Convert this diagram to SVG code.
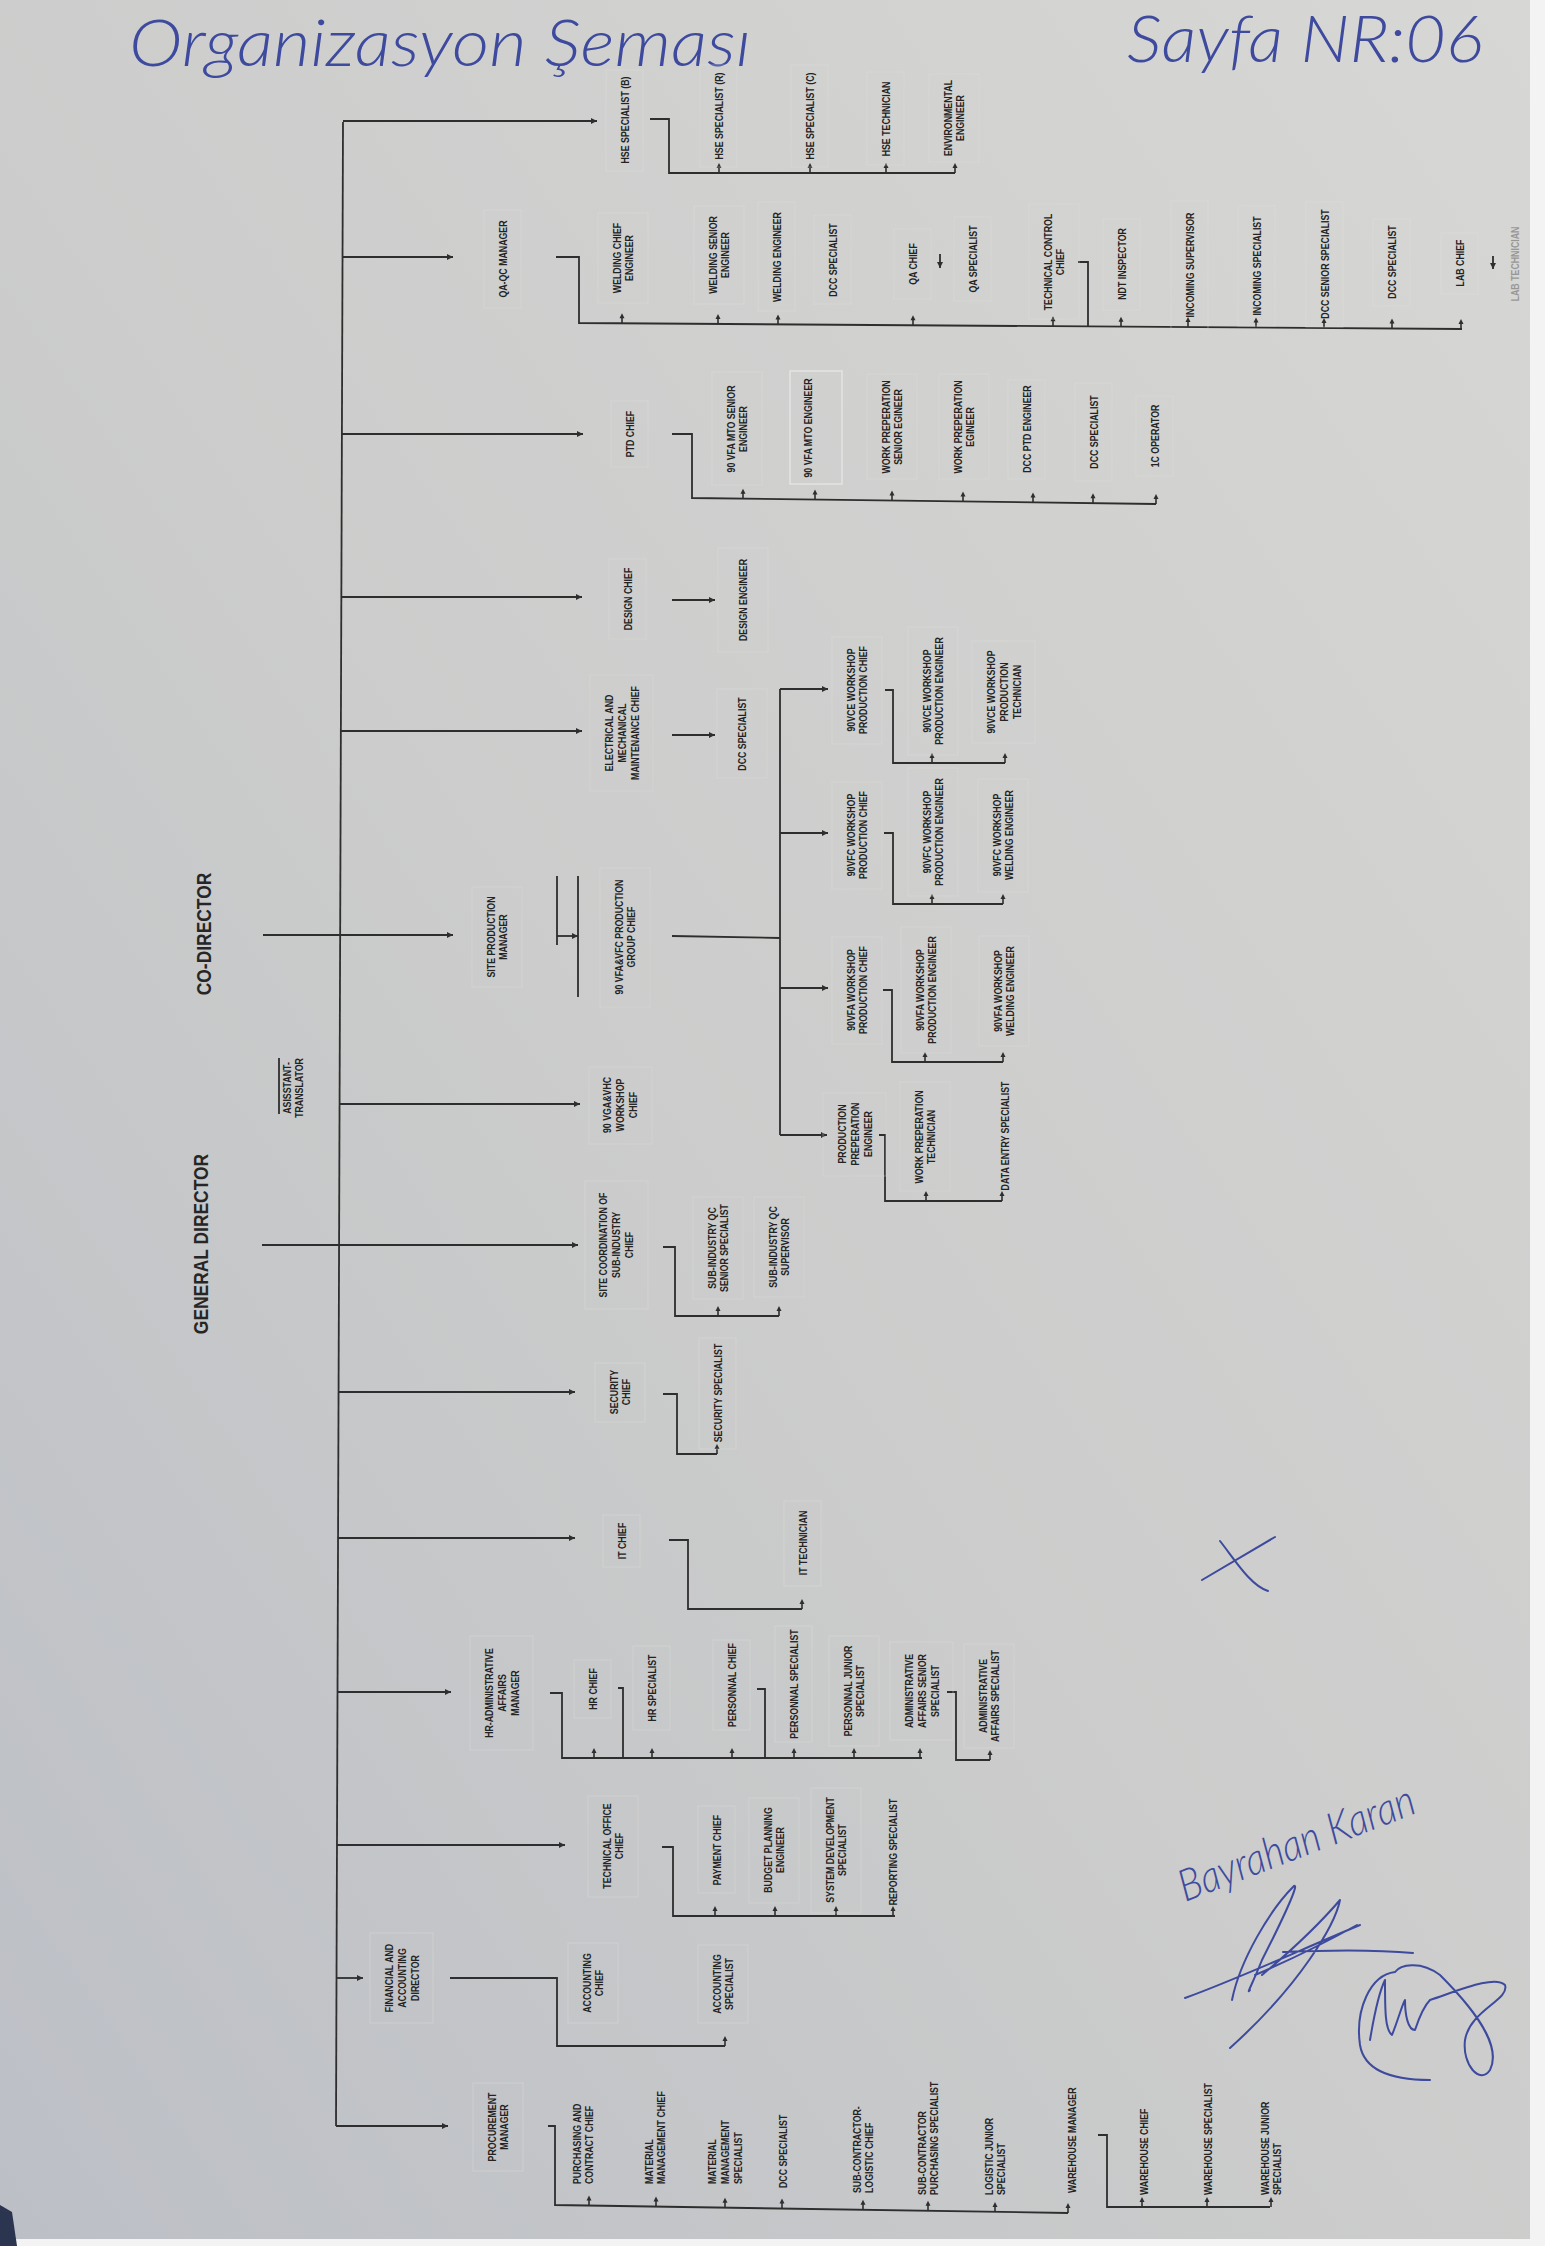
<svg xmlns="http://www.w3.org/2000/svg" xmlns:xlink="http://www.w3.org/1999/xlink" width="1545" height="2246" viewBox="0 0 1545 2246">
<defs>
<linearGradient id="bg" x1="1" y1="0" x2="0" y2="1">
<stop offset="0" stop-color="#d7d7d5"/>
<stop offset="0.55" stop-color="#cbcccb"/>
<stop offset="1" stop-color="#bcbfc6"/>
</linearGradient>
<marker id="ar" viewBox="0 0 10 10" refX="10" refY="5" markerWidth="7" markerHeight="6" markerUnits="userSpaceOnUse" orient="auto"><path d="M0,0 L10,5 L0,10 z" fill="#2e2e2e"/></marker>
<g id="tk"><path d="M0,0 V-6" stroke="#2e2e2e" stroke-width="1.6"/><path d="M-2.5,-5 L0,-10 L2.5,-5 z" fill="#2e2e2e"/></g>
<style>
.l{font-family:"Liberation Sans",Arial,sans-serif;font-weight:bold;font-size:11px;fill:#232323;text-anchor:middle}
.s{font-family:"Liberation Sans",Arial,sans-serif;font-weight:bold;font-size:11px;fill:#232323;text-anchor:start}
.t{font-family:"Liberation Sans",Arial,sans-serif;font-weight:bold;font-size:21px;fill:#262626;text-anchor:middle}
.c{fill:none;stroke:#2e2e2e;stroke-width:1.8}
.bx{fill:none;stroke:#e2e2e0;stroke-width:1.1;opacity:.35}
.hw{font-family:Lato,"Open Sans",sans-serif;font-style:italic;font-weight:300;fill:#3d4a9e}
.ink{fill:none;stroke:#3d4a9e;stroke-width:2;stroke-linecap:round;stroke-linejoin:round}
</style>
</defs>
<rect x="0" y="0" width="1545" height="2246" fill="url(#bg)"/>
<rect x="1530" y="0" width="15" height="2246" fill="#f3f3f3"/>
<rect x="0" y="2239" width="1545" height="7" fill="#f3f3f3"/>
<path d="M0,2205 L12,2212 L17,2246 L0,2246 z" fill="#2b3550"/>

<!-- handwriting -->
<text class="hw" x="129" y="66" font-size="66" textLength="622" lengthAdjust="spacingAndGlyphs">Organizasyon Şeması</text>
<text class="hw" x="1127" y="62" font-size="66" textLength="356" lengthAdjust="spacingAndGlyphs">Sayfa NR:06</text>
<text class="hw" transform="translate(1185,1902) rotate(-21)" font-size="44" textLength="250" lengthAdjust="spacingAndGlyphs">Bayrahan Karan</text>
<path class="ink" d="M1202,1580 L1275,1537 M1220,1541 C1235,1560 1250,1585 1268,1591"/>
<path class="ink" d="M1185,1998 C1240,1978 1300,1950 1360,1925 M1232,2000 C1240,1960 1270,1910 1293,1887 C1300,1880 1290,1905 1262,1960 C1252,1985 1246,1995 1250,1990 M1262,1975 C1280,1960 1310,1935 1340,1900 C1335,1925 1300,1985 1230,2048 M1283,1952 C1330,1950 1380,1950 1413,1953 M1255,1975 C1290,1960 1330,1940 1357,1925"/>
<path class="ink" d="M1395,1972 C1370,1975 1355,2010 1360,2045 C1365,2075 1400,2080 1430,2080 M1370,2040 C1375,2010 1380,1990 1385,1980 C1385,2010 1385,2030 1392,2035 C1398,2020 1402,2005 1405,2000 C1405,2015 1408,2030 1415,2030 C1420,2015 1425,2005 1430,2000 C1460,1990 1495,1975 1505,1985 C1510,2000 1470,2010 1465,2040 C1462,2065 1480,2085 1490,2070 C1500,2050 1485,2020 1440,1975 C1420,1960 1400,1965 1395,1972"/>

<!-- connectors -->
<g id="connectors">
<path class="c" d="M343,122 L336,2126"/>
<path class="c" marker-end="url(#ar)" d="M343,121 H597"/>
<path class="c" marker-end="url(#ar)" d="M342.5,257 H453"/>
<path class="c" marker-end="url(#ar)" d="M342,434 H583"/>
<path class="c" marker-end="url(#ar)" d="M341,597 H582"/>
<path class="c" marker-end="url(#ar)" d="M341,731 H582"/>
<path class="c" marker-end="url(#ar)" d="M263,935 H453"/>
<path class="c" marker-end="url(#ar)" d="M340,1104 H580"/>
<path class="c" marker-end="url(#ar)" d="M262,1245 H578"/>
<path class="c" marker-end="url(#ar)" d="M338.6,1392 H575"/>
<path class="c" marker-end="url(#ar)" d="M338,1538 H575"/>
<path class="c" marker-end="url(#ar)" d="M337.5,1692 H451"/>
<path class="c" marker-end="url(#ar)" d="M337,1845 H565"/>
<path class="c" marker-end="url(#ar)" d="M336.5,1978 H363"/>
<path class="c" marker-end="url(#ar)" d="M336,2126 H448"/>

<path class="c" d="M650,119 H669 V173 H955"/>
<path class="c" d="M556,257 H579 V323 L1462,329"/>
<path class="c" d="M1078,262 H1088 V326"/>
<path class="c" d="M672,434 H692 V498 L1156,504"/>
<path class="c" marker-end="url(#ar)" d="M672,600 H715"/>
<path class="c" marker-end="url(#ar)" d="M672,735 H715"/>
<path class="c" d="M557,876 V945 M578,876 V997"/>
<path class="c" marker-end="url(#ar)" d="M557,936 H578"/>
<path class="c" d="M672,936 L780,938 M780,689 V1135"/>
<path class="c" marker-end="url(#ar)" d="M780,689 H828"/>
<path class="c" marker-end="url(#ar)" d="M780,833 H828"/>
<path class="c" marker-end="url(#ar)" d="M780,988 H828"/>
<path class="c" marker-end="url(#ar)" d="M780,1135 H827"/>
<path class="c" d="M885,690 H893 V763 H1005"/>
<path class="c" d="M884,833 H893 V904 H1003"/>
<path class="c" d="M883,990 H892 V1062 H1003"/>
<path class="c" d="M879,1135 H885 V1201 H1002"/>
<path class="c" d="M663,1247 H675 V1316 H779"/>
<path class="c" d="M663,1394 H677 V1454 H717"/>
<path class="c" d="M669,1540 H688 V1609 H802"/>
<path class="c" d="M550,1693 H562 V1758 H922"/>
<path class="c" d="M618,1688 H623 V1758 M757,1689 H765 V1758"/>
<path class="c" d="M947,1692 H956 V1760 H990"/>
<path class="c" d="M662,1847 H673 V1916 H895"/>
<path class="c" d="M450,1978 H557 V2046 H725"/>
<path class="c" d="M548,2126 H555 V2205 L1068,2213"/>
<path class="c" d="M1098,2135 H1107 V2207 H1270"/>
<path class="c" stroke-width="1.4" marker-end="url(#ar)" d="M940,254 V268"/>
<path class="c" stroke-width="1.4" marker-end="url(#ar)" d="M1493,256 V269"/>

<use xlink:href="#tk" x="719" y="173"/><use xlink:href="#tk" x="810" y="173"/><use xlink:href="#tk" x="886" y="173"/><use xlink:href="#tk" x="955" y="173"/>
<use xlink:href="#tk" x="622" y="323.3"/><use xlink:href="#tk" x="718" y="323.9"/><use xlink:href="#tk" x="778" y="324.4"/><use xlink:href="#tk" x="913" y="325.3"/><use xlink:href="#tk" x="1053" y="326.2"/><use xlink:href="#tk" x="1121" y="326.7"/><use xlink:href="#tk" x="1188" y="327.1"/><use xlink:href="#tk" x="1256" y="327.6"/><use xlink:href="#tk" x="1324" y="328.1"/><use xlink:href="#tk" x="1392" y="328.5"/><use xlink:href="#tk" x="1461" y="329"/>
<use xlink:href="#tk" x="743" y="498.7"/><use xlink:href="#tk" x="815" y="499.6"/><use xlink:href="#tk" x="892" y="500.6"/><use xlink:href="#tk" x="963" y="501.5"/><use xlink:href="#tk" x="1033" y="502.4"/><use xlink:href="#tk" x="1093" y="503.2"/><use xlink:href="#tk" x="1156" y="504"/>
<use xlink:href="#tk" x="932" y="763"/><use xlink:href="#tk" x="1005" y="763"/>
<use xlink:href="#tk" x="932" y="904"/><use xlink:href="#tk" x="1003" y="904"/>
<use xlink:href="#tk" x="925" y="1062"/><use xlink:href="#tk" x="1003" y="1062"/>
<use xlink:href="#tk" x="926" y="1201"/><use xlink:href="#tk" x="1002" y="1201"/>
<use xlink:href="#tk" x="718" y="1316"/><use xlink:href="#tk" x="779" y="1316"/>
<use xlink:href="#tk" x="717" y="1454"/>
<use xlink:href="#tk" x="802" y="1609"/>
<use xlink:href="#tk" x="594" y="1758"/><use xlink:href="#tk" x="652" y="1758"/><use xlink:href="#tk" x="732" y="1758"/><use xlink:href="#tk" x="794" y="1758"/><use xlink:href="#tk" x="854" y="1758"/><use xlink:href="#tk" x="920" y="1758"/>
<use xlink:href="#tk" x="990" y="1760"/>
<use xlink:href="#tk" x="715" y="1916"/><use xlink:href="#tk" x="775" y="1916"/><use xlink:href="#tk" x="836" y="1916"/><use xlink:href="#tk" x="893" y="1916"/>
<use xlink:href="#tk" x="725" y="2046"/>
<use xlink:href="#tk" x="589" y="2205.5"/><use xlink:href="#tk" x="656" y="2206.6"/><use xlink:href="#tk" x="725" y="2207.7"/><use xlink:href="#tk" x="782" y="2208.5"/><use xlink:href="#tk" x="863" y="2209.8"/><use xlink:href="#tk" x="928" y="2210.8"/><use xlink:href="#tk" x="995" y="2211.9"/><use xlink:href="#tk" x="1068" y="2213"/>
<use xlink:href="#tk" x="1142" y="2207"/><use xlink:href="#tk" x="1207" y="2207"/><use xlink:href="#tk" x="1271" y="2207"/>
</g>

<!-- titles -->
<g id="n-codir"><text class="t" transform="translate(203,934) rotate(-90) scale(.83,1)" y="8">CO-DIRECTOR</text></g>
<g id="n-gd"><text class="t" transform="translate(200,1244) rotate(-90) scale(.83,1)" y="8">GENERAL DIRECTOR</text></g>
<g id="n-asst"><path class="c" stroke-width="1.4" d="M279,1058 V1114"/><text class="l" transform="translate(293,1088) rotate(-90) scale(.8,1)"><tspan x="0" y="-2.5">ASISSTANT-</tspan><tspan x="0" y="10.5">TRANSLATOR</tspan></text></g>

<!-- HSE row -->
<g id="n-hse-b"><rect class="bx" x="606" y="70" width="37" height="101"/><text class="l" transform="translate(625,120) rotate(-90) scale(.8,1)"><tspan x="0" y="4">HSE SPECIALIST (B)</tspan></text></g>
<g id="n-hse-r"><rect class="bx" x="700" y="65" width="37" height="102"/><text class="l" transform="translate(719,116) rotate(-90) scale(.8,1)"><tspan x="0" y="4">HSE SPECIALIST (R)</tspan></text></g>
<g id="n-hse-c"><rect class="bx" x="791" y="65" width="37" height="102"/><text class="l" transform="translate(810,116) rotate(-90) scale(.8,1)"><tspan x="0" y="4">HSE SPECIALIST (C)</tspan></text></g>
<g id="n-hse-t"><rect class="bx" x="867" y="72" width="37" height="93"/><text class="l" transform="translate(886,119) rotate(-90) scale(.8,1)"><tspan x="0" y="4">HSE TECHNICIAN</tspan></text></g>
<g id="n-env"><rect class="bx" x="929" y="74" width="50" height="88"/><text class="l" transform="translate(954,118) rotate(-90) scale(.8,1)"><tspan x="0" y="-2.5">ENVIRONMENTAL</tspan><tspan x="0" y="10.5">ENGINEER</tspan></text></g>

<!-- QA-QC row -->
<g id="n-qaqc"><rect class="bx" x="484" y="210" width="37" height="98"/><text class="l" transform="translate(503,259) rotate(-90) scale(.8,1)"><tspan x="0" y="4">QA-QC MANAGER</tspan></text></g>
<g id="n-wce"><rect class="bx" x="598" y="213" width="50" height="90"/><text class="l" transform="translate(623,258) rotate(-90) scale(.8,1)"><tspan x="0" y="-2.5">WELDING CHIEF</tspan><tspan x="0" y="10.5">ENGINEER</tspan></text></g>
<g id="n-wse"><rect class="bx" x="694" y="206" width="50" height="98"/><text class="l" transform="translate(719,255) rotate(-90) scale(.8,1)"><tspan x="0" y="-2.5">WELDING SENIOR</tspan><tspan x="0" y="10.5">ENGINEER</tspan></text></g>
<g id="n-we"><rect class="bx" x="758" y="202" width="37" height="109"/><text class="l" transform="translate(777,257) rotate(-90) scale(.8,1)"><tspan x="0" y="4">WELDING ENGINEER</tspan></text></g>
<g id="n-dcc1"><rect class="bx" x="814" y="215" width="37" height="89"/><text class="l" transform="translate(833,260) rotate(-90) scale(.8,1)"><tspan x="0" y="4">DCC SPECIALIST</tspan></text></g>
<g id="n-qac"><rect class="bx" x="894" y="229" width="37" height="70"/><text class="l" transform="translate(913,264) rotate(-90) scale(.8,1)"><tspan x="0" y="4">QA CHIEF</tspan></text></g>
<g id="n-qas"><rect class="bx" x="954" y="217" width="37" height="84"/><text class="l" transform="translate(973,259) rotate(-90) scale(.8,1)"><tspan x="0" y="4">QA SPECIALIST</tspan></text></g>
<g id="n-tcc"><rect class="bx" x="1029" y="204" width="50" height="115"/><text class="l" transform="translate(1054,262) rotate(-90) scale(.8,1)"><tspan x="0" y="-2.5">TECHNICAL CONTROL</tspan><tspan x="0" y="10.5">CHIEF</tspan></text></g>
<g id="n-ndt"><rect class="bx" x="1103" y="219" width="37" height="91"/><text class="l" transform="translate(1122,264) rotate(-90) scale(.8,1)"><tspan x="0" y="4">NDT INSPECTOR</tspan></text></g>
<g id="n-incsup"><rect class="bx" x="1171" y="201" width="37" height="128"/><text class="l" transform="translate(1190,265) rotate(-90) scale(.8,1)"><tspan x="0" y="4">INCOMING SUPERVISOR</tspan></text></g>
<g id="n-incspec"><rect class="bx" x="1238" y="206" width="37" height="120"/><text class="l" transform="translate(1257,266) rotate(-90) scale(.8,1)"><tspan x="0" y="4">INCOMING SPECIALIST</tspan></text></g>
<g id="n-dccsen"><rect class="bx" x="1306" y="202" width="37" height="125"/><text class="l" transform="translate(1325,264) rotate(-90) scale(.8,1)"><tspan x="0" y="4">DCC SENIOR SPECIALIST</tspan></text></g>
<g id="n-dcc2"><rect class="bx" x="1373" y="219" width="37" height="87"/><text class="l" transform="translate(1392,262) rotate(-90) scale(.8,1)"><tspan x="0" y="4">DCC SPECIALIST</tspan></text></g>
<g id="n-lab"><rect class="bx" x="1441" y="233" width="37" height="61"/><text class="l" transform="translate(1460,263) rotate(-90) scale(.8,1)"><tspan x="0" y="4">LAB CHIEF</tspan></text></g>
<g id="n-labtech" opacity="0.35"><text class="l" transform="translate(1515,264) rotate(-90) scale(.8,1)"><tspan x="0" y="4">LAB TECHNICIAN</tspan></text></g>

<!-- PTD row -->
<g id="n-ptd"><rect class="bx" x="611" y="401" width="37" height="66"/><text class="l" transform="translate(630,434) rotate(-90) scale(.8,1)"><tspan x="0" y="4">PTD CHIEF</tspan></text></g>
<g id="n-mtos"><rect class="bx" x="712" y="372" width="50" height="113"/><text class="l" transform="translate(737,429) rotate(-90) scale(.8,1)"><tspan x="0" y="-2.5">90 VFA MTO SENIOR</tspan><tspan x="0" y="10.5">ENGINEER</tspan></text></g>
<g id="n-mto"><rect x="790" y="371" width="52" height="113" fill="none" stroke="#e8e8e6" stroke-width="1.5" opacity=".8"/><text class="l" transform="translate(808,428) rotate(-90) scale(.8,1)"><tspan x="0" y="4">90 VFA MTO ENGINEER</tspan></text></g>
<g id="n-wps"><rect class="bx" x="867" y="374" width="50" height="105"/><text class="l" transform="translate(892,427) rotate(-90) scale(.8,1)"><tspan x="0" y="-2.5">WORK PREPERATION</tspan><tspan x="0" y="10.5">SENIOR EGINEER</tspan></text></g>
<g id="n-wp"><rect class="bx" x="939" y="374" width="50" height="105"/><text class="l" transform="translate(964,427) rotate(-90) scale(.8,1)"><tspan x="0" y="-2.5">WORK PREPERATION</tspan><tspan x="0" y="10.5">EGINEER</tspan></text></g>
<g id="n-dccptd"><rect class="bx" x="1008" y="380" width="37" height="99"/><text class="l" transform="translate(1027,429) rotate(-90) scale(.8,1)"><tspan x="0" y="4">DCC PTD ENGINEER</tspan></text></g>
<g id="n-dcc3"><rect class="bx" x="1075" y="383" width="37" height="98"/><text class="l" transform="translate(1094,432) rotate(-90) scale(.8,1)"><tspan x="0" y="4">DCC SPECIALIST</tspan></text></g>
<g id="n-1c"><rect class="bx" x="1136" y="396" width="37" height="80"/><text class="l" transform="translate(1155,436) rotate(-90) scale(.8,1)"><tspan x="0" y="4">1C OPERATOR</tspan></text></g>

<!-- design / E&M -->
<g id="n-design"><rect class="bx" x="609" y="559" width="37" height="80"/><text class="l" transform="translate(628,599) rotate(-90) scale(.8,1)"><tspan x="0" y="4">DESIGN CHIEF</tspan></text></g>
<g id="n-designeng"><rect class="bx" x="718" y="548" width="50" height="104"/><text class="l" transform="translate(743,600) rotate(-90) scale(.8,1)"><tspan x="0" y="4">DESIGN ENGINEER</tspan></text></g>
<g id="n-em"><rect class="bx" x="590" y="675" width="63" height="116"/><text class="l" transform="translate(622,733) rotate(-90) scale(.8,1)"><tspan x="0" y="-9">ELECTRICAL AND</tspan><tspan x="0" y="4">MECHANICAL</tspan><tspan x="0" y="17">MAINTENANCE CHIEF</tspan></text></g>
<g id="n-dcc4"><rect class="bx" x="717" y="689" width="50" height="89"/><text class="l" transform="translate(742,734) rotate(-90) scale(.8,1)"><tspan x="0" y="4">DCC SPECIALIST</tspan></text></g>

<!-- production -->
<g id="n-spm"><rect class="bx" x="472" y="887" width="50" height="100"/><text class="l" transform="translate(497,937) rotate(-90) scale(.8,1)"><tspan x="0" y="-2.5">SITE PRODUCTION</tspan><tspan x="0" y="10.5">MANAGER</tspan></text></g>
<g id="n-pgc"><rect class="bx" x="600" y="868" width="50" height="139"/><text class="l" transform="translate(625,937) rotate(-90) scale(.8,1)"><tspan x="0" y="-2.5">90 VFA&amp;VFC PRODUCTION</tspan><tspan x="0" y="10.5">GROUP CHIEF</tspan></text></g>
<g id="n-vce-c"><rect class="bx" x="832" y="637" width="50" height="107"/><text class="l" transform="translate(857,690) rotate(-90) scale(.8,1)"><tspan x="0" y="-2.5">90VCE WORKSHOP</tspan><tspan x="0" y="10.5">PRODUCTION CHIEF</tspan></text></g>
<g id="n-vce-e"><rect class="bx" x="908" y="627" width="50" height="128"/><text class="l" transform="translate(933,691) rotate(-90) scale(.8,1)"><tspan x="0" y="-2.5">90VCE WORKSHOP</tspan><tspan x="0" y="10.5">PRODUCTION ENGINEER</tspan></text></g>
<g id="n-vce-t"><rect class="bx" x="972" y="641" width="63" height="102"/><text class="l" transform="translate(1004,692) rotate(-90) scale(.8,1)"><tspan x="0" y="-9">90VCE WORKSHOP</tspan><tspan x="0" y="4">PRODUCTION</tspan><tspan x="0" y="17">TECHNICIAN</tspan></text></g>
<g id="n-vfc-c"><rect class="bx" x="832" y="782" width="50" height="107"/><text class="l" transform="translate(857,835) rotate(-90) scale(.8,1)"><tspan x="0" y="-2.5">90VFC WORKSHOP</tspan><tspan x="0" y="10.5">PRODUCTION CHIEF</tspan></text></g>
<g id="n-vfc-e"><rect class="bx" x="908" y="768" width="50" height="128"/><text class="l" transform="translate(933,832) rotate(-90) scale(.8,1)"><tspan x="0" y="-2.5">90VFC WORKSHOP</tspan><tspan x="0" y="10.5">PRODUCTION ENGINEER</tspan></text></g>
<g id="n-vfc-w"><rect class="bx" x="978" y="779" width="50" height="113"/><text class="l" transform="translate(1003,835) rotate(-90) scale(.8,1)"><tspan x="0" y="-2.5">90VFC WORKSHOP</tspan><tspan x="0" y="10.5">WELDING ENGINEER</tspan></text></g>
<g id="n-vfa-c"><rect class="bx" x="832" y="937" width="50" height="107"/><text class="l" transform="translate(857,990) rotate(-90) scale(.8,1)"><tspan x="0" y="-2.5">90VFA WORKSHOP</tspan><tspan x="0" y="10.5">PRODUCTION CHIEF</tspan></text></g>
<g id="n-vfa-e"><rect class="bx" x="901" y="927" width="50" height="126"/><text class="l" transform="translate(926,990) rotate(-90) scale(.8,1)"><tspan x="0" y="-2.5">90VFA WORKSHOP</tspan><tspan x="0" y="10.5">PRODUCTION ENGINEER</tspan></text></g>
<g id="n-vfa-w"><rect class="bx" x="979" y="936" width="50" height="110"/><text class="l" transform="translate(1004,991) rotate(-90) scale(.8,1)"><tspan x="0" y="-2.5">90VFA WORKSHOP</tspan><tspan x="0" y="10.5">WELDING ENGINEER</tspan></text></g>
<g id="n-ppe"><rect class="bx" x="823" y="1093" width="63" height="83"/><text class="l" transform="translate(855,1134) rotate(-90) scale(.8,1)"><tspan x="0" y="-9">PRODUCTION</tspan><tspan x="0" y="4">PREPERATION</tspan><tspan x="0" y="17">ENGINEER</tspan></text></g>
<g id="n-wpt"><rect class="bx" x="900" y="1082" width="50" height="109"/><text class="l" transform="translate(925,1137) rotate(-90) scale(.8,1)"><tspan x="0" y="-2.5">WORK PREPERATION</tspan><tspan x="0" y="10.5">TECHNICIAN</tspan></text></g>
<g id="n-des"><text class="l" transform="translate(1005,1136) rotate(-90) scale(.8,1)"><tspan x="0" y="4">DATA ENTRY SPECIALIST</tspan></text></g>

<!-- general director branch -->
<g id="n-vga"><rect class="bx" x="589" y="1067" width="63" height="77"/><text class="l" transform="translate(620,1105) rotate(-90) scale(.8,1)"><tspan x="0" y="-9">90 VGA&amp;VHC</tspan><tspan x="0" y="4">WORKSHOP</tspan><tspan x="0" y="17">CHIEF</tspan></text></g>
<g id="n-scs"><rect class="bx" x="585" y="1181" width="63" height="128"/><text class="l" transform="translate(616,1245) rotate(-90) scale(.8,1)"><tspan x="0" y="-9">SITE COORDINATION OF</tspan><tspan x="0" y="4">SUB-INDUSTRY</tspan><tspan x="0" y="17">CHIEF</tspan></text></g>
<g id="n-sqs"><rect class="bx" x="693" y="1197" width="50" height="102"/><text class="l" transform="translate(718,1248) rotate(-90) scale(.8,1)"><tspan x="0" y="-2.5">SUB-INDUSTRY QC</tspan><tspan x="0" y="10.5">SENIOR SPECIALIST</tspan></text></g>
<g id="n-sqv"><rect class="bx" x="754" y="1197" width="50" height="100"/><text class="l" transform="translate(779,1247) rotate(-90) scale(.8,1)"><tspan x="0" y="-2.5">SUB-INDUSTRY QC</tspan><tspan x="0" y="10.5">SUPERVISOR</tspan></text></g>
<g id="n-sec"><rect class="bx" x="595" y="1363" width="50" height="59"/><text class="l" transform="translate(620,1392) rotate(-90) scale(.8,1)"><tspan x="0" y="-2.5">SECURITY</tspan><tspan x="0" y="10.5">CHIEF</tspan></text></g>
<g id="n-secs"><rect class="bx" x="699" y="1338" width="37" height="111"/><text class="l" transform="translate(718,1393) rotate(-90) scale(.8,1)"><tspan x="0" y="4">SECURITY SPECIALIST</tspan></text></g>
<g id="n-it"><rect class="bx" x="603" y="1515" width="37" height="52"/><text class="l" transform="translate(622,1541) rotate(-90) scale(.8,1)"><tspan x="0" y="4">IT CHIEF</tspan></text></g>
<g id="n-itt"><rect class="bx" x="784" y="1501" width="37" height="85"/><text class="l" transform="translate(803,1543) rotate(-90) scale(.8,1)"><tspan x="0" y="4">IT TECHNICIAN</tspan></text></g>

<!-- HR -->
<g id="n-hr"><rect class="bx" x="470" y="1636" width="63" height="114"/><text class="l" transform="translate(502,1693) rotate(-90) scale(.8,1)"><tspan x="0" y="-9">HR-ADMINISTRATIVE</tspan><tspan x="0" y="4">AFFAIRS</tspan><tspan x="0" y="17">MANAGER</tspan></text></g>
<g id="n-hrc"><rect class="bx" x="574" y="1660" width="37" height="58"/><text class="l" transform="translate(593,1689) rotate(-90) scale(.8,1)"><tspan x="0" y="4">HR CHIEF</tspan></text></g>
<g id="n-hrs"><rect class="bx" x="633" y="1646" width="37" height="84"/><text class="l" transform="translate(652,1688) rotate(-90) scale(.8,1)"><tspan x="0" y="4">HR SPECIALIST</tspan></text></g>
<g id="n-pc"><rect class="bx" x="713" y="1640" width="37" height="90"/><text class="l" transform="translate(732,1685) rotate(-90) scale(.8,1)"><tspan x="0" y="4">PERSONNAL CHIEF</tspan></text></g>
<g id="n-ps"><rect class="bx" x="775" y="1626" width="37" height="116"/><text class="l" transform="translate(794,1684) rotate(-90) scale(.8,1)"><tspan x="0" y="4">PERSONNAL SPECIALIST</tspan></text></g>
<g id="n-pjs"><rect class="bx" x="829" y="1636" width="50" height="110"/><text class="l" transform="translate(854,1691) rotate(-90) scale(.8,1)"><tspan x="0" y="-2.5">PERSONNAL JUNIOR</tspan><tspan x="0" y="10.5">SPECIALIST</tspan></text></g>
<g id="n-aass"><rect class="bx" x="890" y="1642" width="63" height="98"/><text class="l" transform="translate(922,1691) rotate(-90) scale(.8,1)"><tspan x="0" y="-9">ADMINISTRATIVE</tspan><tspan x="0" y="4">AFFAIRS SENIOR</tspan><tspan x="0" y="17">SPECIALIST</tspan></text></g>
<g id="n-aas"><rect class="bx" x="964" y="1644" width="50" height="104"/><text class="l" transform="translate(989,1696) rotate(-90) scale(.8,1)"><tspan x="0" y="-2.5">ADMINISTRATIVE</tspan><tspan x="0" y="10.5">AFFAIRS SPECIALIST</tspan></text></g>

<!-- technical office -->
<g id="n-toc"><rect class="bx" x="588" y="1796" width="50" height="101"/><text class="l" transform="translate(613,1846) rotate(-90) scale(.8,1)"><tspan x="0" y="-2.5">TECHNICAL OFFICE</tspan><tspan x="0" y="10.5">CHIEF</tspan></text></g>
<g id="n-pay"><rect class="bx" x="698" y="1806" width="37" height="87"/><text class="l" transform="translate(717,1850) rotate(-90) scale(.8,1)"><tspan x="0" y="4">PAYMENT CHIEF</tspan></text></g>
<g id="n-bpe"><rect class="bx" x="749" y="1798" width="50" height="105"/><text class="l" transform="translate(774,1850) rotate(-90) scale(.8,1)"><tspan x="0" y="-2.5">BUDGET PLANNING</tspan><tspan x="0" y="10.5">ENGINEER</tspan></text></g>
<g id="n-sds"><rect class="bx" x="811" y="1788" width="50" height="125"/><text class="l" transform="translate(836,1850) rotate(-90) scale(.8,1)"><tspan x="0" y="-2.5">SYSTEM DEVELOPMENT</tspan><tspan x="0" y="10.5">SPECIALIST</tspan></text></g>
<g id="n-rep"><text class="l" transform="translate(893,1852) rotate(-90) scale(.8,1)"><tspan x="0" y="4">REPORTING SPECIALIST</tspan></text></g>

<!-- financial -->
<g id="n-fa"><rect class="bx" x="370" y="1933" width="63" height="90"/><text class="l" transform="translate(402,1978) rotate(-90) scale(.8,1)"><tspan x="0" y="-9">FINANCIAL AND</tspan><tspan x="0" y="4">ACCOUNTING</tspan><tspan x="0" y="17">DIRECTOR</tspan></text></g>
<g id="n-acc"><rect class="bx" x="568" y="1943" width="50" height="80"/><text class="l" transform="translate(593,1983) rotate(-90) scale(.8,1)"><tspan x="0" y="-2.5">ACCOUNTING</tspan><tspan x="0" y="10.5">CHIEF</tspan></text></g>
<g id="n-accs"><rect class="bx" x="698" y="1945" width="50" height="78"/><text class="l" transform="translate(723,1984) rotate(-90) scale(.8,1)"><tspan x="0" y="-2.5">ACCOUNTING</tspan><tspan x="0" y="10.5">SPECIALIST</tspan></text></g>

<!-- procurement -->
<g id="n-proc"><rect class="bx" x="473" y="2083" width="50" height="88"/><text class="l" transform="translate(498,2127) rotate(-90) scale(.8,1)"><tspan x="0" y="-2.5">PROCUREMENT</tspan><tspan x="0" y="10.5">MANAGER</tspan></text></g>
<g id="n-pcc"><text class="s" transform="translate(583,2184) rotate(-90) scale(.8,1)"><tspan x="0" y="-2.5">PURCHASING AND</tspan><tspan x="0" y="10.5">CONTRACT CHIEF</tspan></text></g>
<g id="n-mmc"><text class="s" transform="translate(655,2184) rotate(-90) scale(.8,1)"><tspan x="0" y="-2.5">MATERIAL</tspan><tspan x="0" y="10.5">MANAGEMENT CHIEF</tspan></text></g>
<g id="n-mms"><text class="s" transform="translate(725,2184) rotate(-90) scale(.8,1)"><tspan x="0" y="-9">MATERIAL</tspan><tspan x="0" y="4">MANAGEMENT</tspan><tspan x="0" y="17">SPECIALIST</tspan></text></g>
<g id="n-dcc5"><text class="s" transform="translate(783,2188) rotate(-90) scale(.8,1)"><tspan x="0" y="4">DCC SPECIALIST</tspan></text></g>
<g id="n-slc"><text class="s" transform="translate(863,2193) rotate(-90) scale(.8,1)"><tspan x="0" y="-2.5">SUB-CONTRACTOR-</tspan><tspan x="0" y="10.5">LOGISTIC CHIEF</tspan></text></g>
<g id="n-sps"><text class="s" transform="translate(928,2195) rotate(-90) scale(.8,1)"><tspan x="0" y="-2.5">SUB-CONTRACTOR</tspan><tspan x="0" y="10.5">PURCHASING SPECIALIST</tspan></text></g>
<g id="n-ljs"><text class="s" transform="translate(995,2195) rotate(-90) scale(.8,1)"><tspan x="0" y="-2.5">LOGISTIC JUNIOR</tspan><tspan x="0" y="10.5">SPECIALIST</tspan></text></g>
<g id="n-whm"><text class="s" transform="translate(1072,2193) rotate(-90) scale(.8,1)"><tspan x="0" y="4">WAREHOUSE MANAGER</tspan></text></g>
<g id="n-whc"><text class="s" transform="translate(1144,2195) rotate(-90) scale(.8,1)"><tspan x="0" y="4">WAREHOUSE CHIEF</tspan></text></g>
<g id="n-whs"><text class="s" transform="translate(1208,2195) rotate(-90) scale(.8,1)"><tspan x="0" y="4">WAREHOUSE SPECIALIST</tspan></text></g>
<g id="n-whj"><text class="s" transform="translate(1271,2195) rotate(-90) scale(.8,1)"><tspan x="0" y="-2.5">WAREHOUSE JUNIOR</tspan><tspan x="0" y="10.5">SPECIALIST</tspan></text></g>
</svg>
